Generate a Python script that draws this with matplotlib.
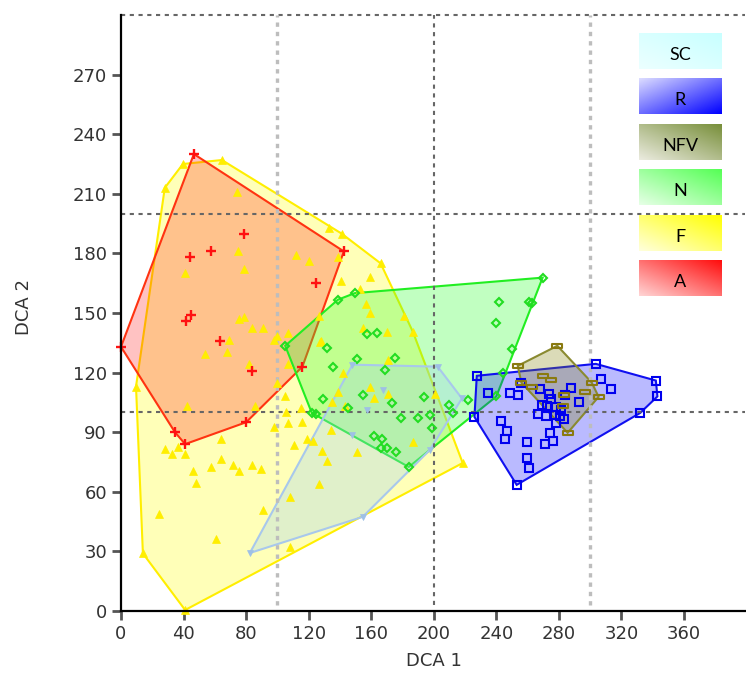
import numpy as np
import matplotlib.pyplot as plt
from matplotlib.colors import to_rgb
from matplotlib.patches import Polygon
from matplotlib.path import Path

# DCA site scores, one pair of lists per vegetation group
a_x = [46.6, 142.5, 116, 80, 41, 34.5, 0, 78.6, 57.5, 44, 125, 44.7, 41.5, 63, 84]
a_y = [230, 181, 123, 95, 84, 90, 133, 190, 181, 178, 165, 149, 146, 136, 121]

f_x = [39.6, 64.5, 141, 166, 186.6, 218.5, 41, 14, 9.6, 28,
       74, 133, 75, 112, 120, 139, 41, 78.6, 140.6, 159, 153, 156.5, 159, 181,
       154.6, 170, 75.4, 78.6, 84, 90.7, 126.5, 69, 54, 68, 82, 98, 100, 107,
       128, 107, 100, 142, 170.6, 159, 162, 170.6, 138.7, 135, 143, 201, 42,
       86, 105, 115, 105.4, 98, 107, 116, 134, 64, 28, 32.6, 36.4, 41, 110.5,
       119, 123, 128.4, 132, 186.6, 151, 46, 48, 57.5, 64, 71.6, 75.4, 84,
       89.5, 90.7, 24, 61, 108, 108, 126.5, 127]
f_y = [225, 227, 190, 175, 140.6, 74.5, 0.5, 29, 113, 213,
       211, 193, 181, 179, 176, 178, 170, 172, 166, 168, 162, 154.7, 150, 148.5,
       142.6, 140.6, 147, 148, 142.6, 142.6, 148.6, 136.5, 129.5, 130.5, 124.4,
       136.5, 138.5, 140, 136, 124.4, 115, 120, 126.4, 113, 107, 109, 110, 105,
       103, 109, 103, 103, 108, 102, 100, 92.7, 94.7, 95, 91, 86.6, 81.6, 79,
       82.6, 79, 83.6, 86.6, 85.6, 80.6, 75.6, 85, 80, 70.5, 64.5, 72.5, 76.6,
       73.5, 70.5, 73.5, 71.5, 51, 49, 36, 57.4, 32, 64, 135.5]

n_x = [105, 138.7, 149.5, 269.6, 240, 244, 184, 122, 125, 242, 261, 263, 240,
       250, 222, 132, 157, 163.6, 151, 175, 135.5, 168.7, 129, 155, 173, 193.6,
       210, 212, 145, 179, 190, 197.4, 198.7, 162, 167, 166, 170, 175.7]
n_y = [133.5, 156.7, 160, 167.8, 108, 120, 72.5, 99.7, 99, 155.7, 155.7, 155,
       145, 132, 106, 132.5, 139.5, 140, 127, 127.5, 123, 121.4, 106.8, 108.8,
       104.8, 107.8, 103.8, 99.7, 102, 97, 97, 98.7, 92, 88, 86.6, 82, 82, 80]

sc_x = [148, 202.5, 218, 197.4, 154.6, 82.4, 167.4, 157, 147.6]
sc_y = [124, 123, 107, 81, 47.4, 29.2, 111, 101, 88.7]

r_x = [227.5, 303.6, 342, 343, 332, 253, 226, 234.5, 248.6, 254, 256, 268,
       288, 283.7, 306.7, 313, 292.6, 275, 269, 272.6, 278, 281.4, 266.5, 272,
       277.3, 281, 283, 278, 243, 246.6, 245.4, 259.4, 274, 276, 271, 259.4,
       260.7, 273.5]
r_y = [118.4, 124.4, 116, 108, 99.7, 63.5, 97.7, 109.8, 109.8, 108.8, 115,
       111.8, 112, 108.8, 116.9, 111.8, 105.3, 106.8, 103.8, 103, 102.8, 101,
       99.2, 98.2, 98.7, 98.2, 96.7, 94.7, 95.7, 90.7, 86.6, 85, 89.7, 85.6, 84,
       77, 72, 109]

nfv_x = [279, 253.7, 256, 285.6, 305.4, 301, 269.6, 275, 262.6, 296.5, 283, 282.5]
nfv_y = [133.5, 123.4, 115, 89.7, 107.8, 115, 118.4, 116.4, 112.8, 110, 108.8, 103.3]

legend_labels = ['SC', 'R', 'NFV', 'N', 'F', 'A']


def hull(x, y):
    # monotone chain convex hull
    pts = sorted(set(zip(x, y)))

    def cross(o, p, q):
        return (p[0] - o[0]) * (q[1] - o[1]) - (p[1] - o[1]) * (q[0] - o[0])

    lower, upper = [], []
    for p in pts:
        while len(lower) >= 2 and cross(lower[-2], lower[-1], p) <= 0:
            lower.pop()
        lower.append(p)
    for p in reversed(pts):
        while len(upper) >= 2 and cross(upper[-2], upper[-1], p) <= 0:
            upper.pop()
        upper.append(p)
    return np.array(lower[:-1] + upper[:-1])


bar = Path([(-1, -0.45), (1, -0.45), (1, 0.45), (-1, 0.45), (-1, -0.45)],
           [1, 2, 2, 2, 79])

# x, y, edge colour, fill colour, fill alpha, marker, size, marker colour, hollow
groups = [
    (f_x, f_y, '#ffee00', '#ffff00', 0.28, '^', 5.5, '#ffee00', False),
    (a_x, a_y, '#ff3311', '#ff0000', 0.24, '+', 7.5, '#ff1111', False),
    (n_x, n_y, '#22ee22', '#33ff33', 0.30, 'D', 4.2, '#22dd22', True),
    (sc_x, sc_y, '#a8c8ec', '#9ad0f5', 0.30, 'v', 5, '#9ec0e6', False),
    (r_x, r_y, '#1010f0', '#0000ff', 0.27, 's', 6, '#0000ee', True),
    (nfv_x, nfv_y, '#8a8a30', '#808000', 0.28, bar, 7, '#8a7a10', True),
]

fig = plt.figure(figsize=(7.46, 6.75), dpi=100)
ax = fig.add_axes([121 / 746, 1 - 611 / 675, 624 / 746, 596 / 675])

for i, (x, y, ec, fc, al, mk, ms, mc, hollow) in enumerate(groups):
    h = hull(x, y)
    ax.add_patch(Polygon(h, closed=True, facecolor=(*to_rgb(fc), al),
                         edgecolor=ec, lw=1.5, zorder=1 + i * 0.1))

for i, (x, y, ec, fc, al, mk, ms, mc, hollow) in enumerate(groups):
    if hollow:
        ax.plot(x, y, ls='none', marker=mk, ms=ms, mfc='none', mec=mc,
                mew=1.5, zorder=4 + i * 0.1, clip_on=False)
    elif mk == '+':
        ax.plot(x, y, ls='none', marker=mk, ms=ms, mec=mc, mew=1.7,
                zorder=4 + i * 0.1, clip_on=False)
    else:
        ax.plot(x, y, ls='none', marker=mk, ms=ms, mfc=mc, mec=mc,
                mew=0.5, zorder=4 + i * 0.1, clip_on=False)

# reference lines
dark = dict(color='#666666', lw=1.5, dashes=(2.0, 2.2), zorder=3)
light = dict(color='#bdbdbd', lw=2.4, dashes=(1.3, 1.5), zorder=3)
for yv in (100, 200):
    ax.plot([0, 399], [yv, yv], **dark)
ax.plot([0, 399], [300, 300], clip_on=False, **dark)
ax.plot([200, 200], [3, 300], **dark)
for xv in (100, 300):
    ax.plot([xv, xv], [3, 300], **light)

ax.set_xlim(0, 399)
ax.set_ylim(0, 300)
ax.set_xticks(np.arange(0, 361, 40))
ax.set_yticks(np.arange(0, 271, 30))
for s in ('top', 'right'):
    ax.spines[s].set_visible(False)
for s in ('left', 'bottom'):
    ax.spines[s].set_linewidth(1.6)
    ax.spines[s].set_color('black')
    ax.spines[s].set_zorder(6)
ax.tick_params(length=6.5, width=2, color='#555555', labelcolor='#333333',
               labelsize=13, pad=3.5)
for lab in ax.get_xticklabels() + ax.get_yticklabels():
    lab.set_family('DejaVu Sans')
ax.set_xlabel('DCA 1', fontsize=13, color='#333333', family='DejaVu Sans')
ax.set_ylabel('DCA 2', fontsize=13, color='#333333', family='DejaVu Sans')
ax.xaxis.set_label_coords((434 - 121) / 624, (611 - 652) / 596)
ax.yaxis.set_label_coords((33 - 121) / 624, 0.51)

# gradient legend boxes
box_tops = [33, 78, 124, 169, 215, 260]
box_light = ['#ecffff', '#dcdcff', '#ebebdf', '#e6ffe6', '#ffffdc', '#ffd4d4']
box_dark = ['#c8ffff', '#0000ff', '#788f3a', '#55ff55', '#ffff00', '#ff0d0d']
gx, gy = np.meshgrid(np.linspace(0, 1, 80), np.linspace(0, 1, 36))
for lab, top, c0, c1 in zip(legend_labels, box_tops, box_light, box_dark):
    bax = fig.add_axes([639 / 746, 1 - (top + 36) / 675, 83 / 746, 36 / 675])
    if lab == 'R':
        t = (gx + gy) / 2          # row 0 at top: saturated toward bottom right
    else:
        t = (gx + 1 - gy) / 2      # saturated toward top right
    t = t[..., None]
    img = (1 - t) * np.array(to_rgb(c0)) + t * np.array(to_rgb(c1))
    bax.imshow(img, aspect='auto', extent=(0, 1, 0, 1), origin='upper')
    bax.text(0.5, 0.38, lab, ha='center', va='center', fontsize=13,
             family='Lato', color='black')
    bax.axis('off')

fig.savefig('out.png', dpi=100)
